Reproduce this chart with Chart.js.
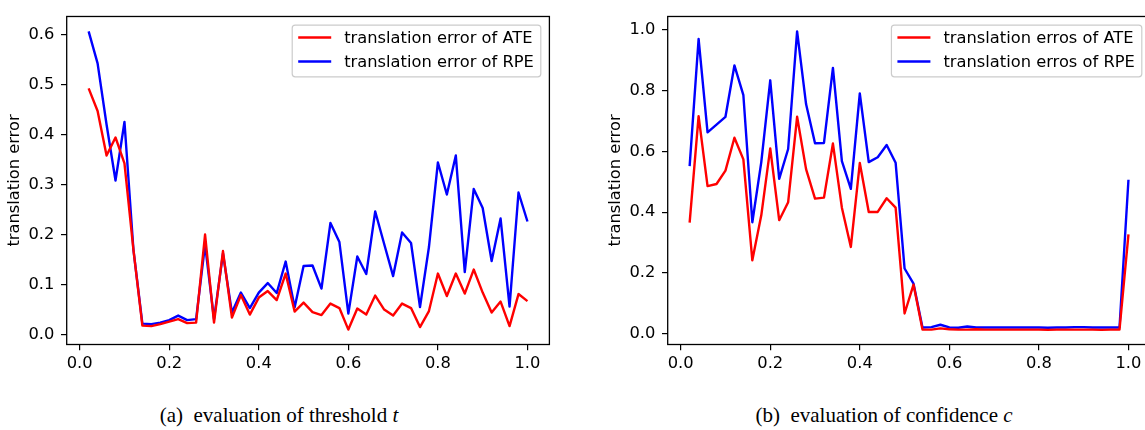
<!DOCTYPE html>
<html>
<head>
<meta charset="utf-8">
<script src="https://cdn.jsdelivr.net/npm/chart.js@4.4.1/dist/chart.umd.min.js"></script>
<style>
  html, body { margin: 0; padding: 0; background: #fff; overflow: hidden; width: 1145px; height: 430px; }
  .panel { position: absolute; top: 0; width: 560px; height: 390px; }
  .caption {
    position: absolute; top: 403px; transform: translateX(-50%);
    font-family: 'Liberation Serif', 'Times New Roman', serif; font-size: 21px; line-height: 24px;
    white-space: pre; color: #000;
  }
</style>
</head>
<body>
<canvas id="chartThreshold" class="panel" width="560" height="390" style="left:0"></canvas>
<canvas id="chartConfidence" class="panel" width="560" height="390" style="left:601px"></canvas>
<div class="caption" style="left:279px">(a)  evaluation of threshold <i>t</i></div>
<div class="caption" style="left:884px">(b)  evaluation of confidence <i>c</i></div>
<script>
// x values shared by both panels (threshold t / confidence c)
const stepValues = [
    0.02, 0.04, 0.06, 0.08, 0.10, 0.12, 0.14, 0.16, 0.18, 0.20,
    0.22, 0.24, 0.26, 0.28, 0.30, 0.32, 0.34, 0.36, 0.38, 0.40,
    0.42, 0.44, 0.46, 0.48, 0.50, 0.52, 0.54, 0.56, 0.58, 0.60,
    0.62, 0.64, 0.66, 0.68, 0.70, 0.72, 0.74, 0.76, 0.78, 0.80,
    0.82, 0.84, 0.86, 0.88, 0.90, 0.92, 0.94, 0.96, 0.98, 1.00
];

// (a) threshold
const thresholdAte = [
    0.492, 0.447, 0.358, 0.394, 0.342, 0.170, 0.018, 0.017, 0.021, 0.026,
    0.031, 0.023, 0.024, 0.200, 0.024, 0.167, 0.034, 0.079, 0.040, 0.074,
    0.087, 0.069, 0.122, 0.046, 0.064, 0.045, 0.039, 0.062, 0.053, 0.010,
    0.052, 0.040, 0.078, 0.050, 0.038, 0.062, 0.053, 0.015, 0.047, 0.122,
    0.077, 0.122, 0.082, 0.130, 0.084, 0.044, 0.066, 0.017, 0.081, 0.067
];
const thresholdRpe = [
    0.606, 0.542, 0.420, 0.308, 0.425, 0.170, 0.022, 0.021, 0.024, 0.029,
    0.038, 0.029, 0.031, 0.180, 0.031, 0.162, 0.044, 0.084, 0.053, 0.084,
    0.103, 0.083, 0.146, 0.054, 0.137, 0.138, 0.092, 0.223, 0.185, 0.042,
    0.156, 0.121, 0.246, 0.181, 0.117, 0.204, 0.183, 0.055, 0.175, 0.344,
    0.280, 0.358, 0.125, 0.291, 0.253, 0.147, 0.232, 0.056, 0.284, 0.226
];

// (b) confidence
const confidenceAte = [
    0.366, 0.716, 0.486, 0.493, 0.537, 0.645, 0.574, 0.242, 0.390, 0.610,
    0.374, 0.433, 0.714, 0.542, 0.445, 0.448, 0.626, 0.415, 0.286, 0.562,
    0.401, 0.401, 0.446, 0.415, 0.067, 0.162, 0.014, 0.014, 0.018, 0.015,
    0.014, 0.014, 0.015, 0.014, 0.014, 0.014, 0.014, 0.014, 0.014, 0.014,
    0.013, 0.014, 0.014, 0.014, 0.014, 0.014, 0.013, 0.014, 0.014, 0.327
];
const confidenceRpe = [
    0.552, 0.970, 0.663, 0.688, 0.714, 0.883, 0.785, 0.367, 0.565, 0.834,
    0.510, 0.608, 0.995, 0.756, 0.627, 0.628, 0.875, 0.568, 0.477, 0.791,
    0.565, 0.581, 0.621, 0.563, 0.215, 0.165, 0.021, 0.022, 0.030, 0.021,
    0.020, 0.024, 0.021, 0.021, 0.021, 0.021, 0.021, 0.021, 0.021, 0.021,
    0.020, 0.021, 0.021, 0.022, 0.022, 0.021, 0.021, 0.021, 0.021, 0.507
];

const xTicks = [0.0, 0.2, 0.4, 0.6, 0.8, 1.0];
const thresholdYTicks = [0.0, 0.1, 0.2, 0.3, 0.4, 0.5, 0.6];
const confidenceYTicks = [0.0, 0.2, 0.4, 0.6, 0.8, 1.0];

const FONT = { family: 'DejaVu Sans', size: 16.3 };
const LINE_W = 2.4;

// caja alrededor del area del grafico (estilo matplotlib)
const framePlugin = {
    id: 'frame',
    afterDatasetsDraw(chart) {
        const { ctx, chartArea: a } = chart;
        ctx.save();
        ctx.strokeStyle = '#000';
        ctx.lineWidth = 1.3;
        ctx.strokeRect(a.left, a.top, a.right - a.left, a.bottom - a.top);
        ctx.restore();
    }
};

// leyenda dentro del grafico, arriba a la derecha
const boxLegendPlugin = {
    id: 'boxLegend',
    afterDraw(chart) {
        const { ctx, chartArea: a } = chart;
        const items = chart.data.datasets;
        ctx.save();
        ctx.font = `${FONT.size}px "${FONT.family}"`;
        const textW = Math.max(...items.map(d => ctx.measureText(d.label).width));
        const w = 6 + 33 + 13 + textW + 7;
        const h = 51.6;
        const x = a.right - 8.6 - w;
        const y = a.top + 8.7;
        ctx.beginPath();
        ctx.roundRect(x, y, w, h, 3);
        ctx.fillStyle = 'rgba(255,255,255,0.8)';
        ctx.fill();
        ctx.strokeStyle = '#cccccc';
        ctx.lineWidth = 1.2;
        ctx.stroke();
        items.forEach((d, i) => {
            const ly = y + 12.3 + i * 24;
            ctx.beginPath();
            ctx.moveTo(x + 6, ly);
            ctx.lineTo(x + 39, ly);
            ctx.strokeStyle = d.borderColor;
            ctx.lineWidth = LINE_W;
            ctx.stroke();
            ctx.fillStyle = '#000';
            ctx.textBaseline = 'middle';
            ctx.fillText(d.label, x + 52, ly + 1);
        });
        ctx.restore();
    }
};

function makeChart(canvasId, ate, rpe, labels, yMin, yMax, yTicks) {
    const ctx = document.getElementById(canvasId).getContext('2d');
    return new Chart(ctx, {
        type: 'line',
        data: {
            datasets: [{
                label: labels[0],
                data: stepValues.map((x, i) => ({ x, y: ate[i] })),
                borderColor: '#ff0000',
                borderWidth: LINE_W,
                pointRadius: 0,
                tension: 0,
                borderJoinStyle: 'round',
                fill: false
            }, {
                label: labels[1],
                data: stepValues.map((x, i) => ({ x, y: rpe[i] })),
                borderColor: '#0000ff',
                borderWidth: LINE_W,
                pointRadius: 0,
                tension: 0,
                borderJoinStyle: 'round',
                fill: false
            }]
        },
        options: {
            responsive: false,
            animation: false,
            layout: { padding: { top: 4, right: 10.6, bottom: 0, left: 0 } },
            scales: {
                x: {
                    type: 'linear',
                    min: -0.029,
                    max: 1.049,
                    afterBuildTicks: s => { s.ticks = xTicks.map(v => ({ value: v })); },
                    afterFit: s => { s.height = 45.5; },
                    grid: { drawOnChartArea: false, drawTicks: true, tickLength: 5.7, color: '#000', lineWidth: 1.2 },
                    border: { display: false },
                    ticks: { color: '#000', font: FONT, padding: 4, maxRotation: 0, autoSkip: false, callback: v => v.toFixed(1) }
                },
                y: {
                    type: 'linear',
                    min: yMin,
                    max: yMax,
                    afterBuildTicks: s => { s.ticks = yTicks.map(v => ({ value: v })); },
                    afterFit: s => { s.width = 66.7; },
                    title: { display: true, text: 'translation error', color: '#000', font: FONT, padding: { top: 5, bottom: 0 } },
                    grid: { drawOnChartArea: false, drawTicks: true, tickLength: 5.7, color: '#000', lineWidth: 1.2 },
                    border: { display: false },
                    ticks: { color: '#000', font: FONT, padding: 6.7, autoSkip: false, callback: v => v.toFixed(1) }
                }
            },
            plugins: {
                legend: { display: false },
                tooltip: { enabled: false }
            }
        },
        plugins: [framePlugin, boxLegendPlugin]
    });
}

makeChart('chartThreshold', thresholdAte, thresholdRpe,
    ['translation error of ATE', 'translation error of RPE'], -0.0198, 0.6358, thresholdYTicks);
makeChart('chartConfidence', confidenceAte, confidenceRpe,
    ['translation erros of ATE', 'translation erros of RPE'], -0.035, 1.044, confidenceYTicks);
</script>
</body>
</html>
